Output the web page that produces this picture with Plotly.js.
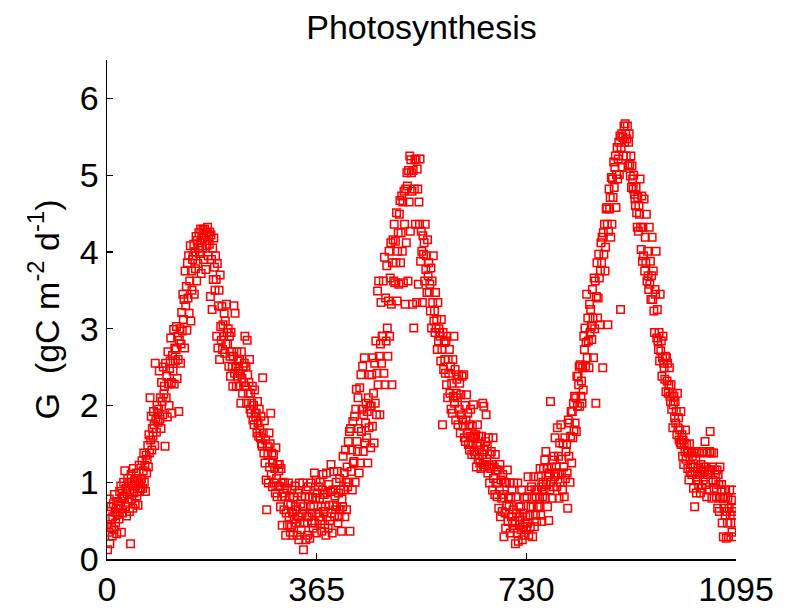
<!DOCTYPE html>
<html>
<head>
<meta charset="utf-8">
<script src="https://cdn.plot.ly/plotly-3.0.1.min.js"></script>
<style>html,body{margin:0;padding:0;background:#fff;}#chart{width:787px;height:613px;}</style>
</head>
<body>
<div id="chart"></div>
<script>
// Daily gross photosynthesis G (gC m^-2 d^-1), day 0 .. 1094
const gpp = [
0.45,0.12,0.62,0.35,0.78,0.2,0.52,0.68,0.41,0.3,
0.55,0.72,0.38,0.84,0.61,0.47,0.66,0.33,0.58,0.75,
0.7,0.52,0.88,0.65,0.95,0.35,0.78,0.6,0.82,1.0,
0.8,1.15,0.68,0.92,0.56,0.85,1.05,0.74,0.98,0.62,
0.9,0.2,1.1,0.78,0.95,0.66,1.18,0.86,1.02,0.72,
0.95,1.12,0.82,1.05,0.7,0.98,1.22,0.88,1.0,0.92,
1.05,1.28,0.92,1.15,1.38,1.0,1.22,0.88,1.35,1.12,
1.3,1.48,1.2,1.62,1.38,2.1,1.55,1.86,1.42,1.7,
1.6,1.92,1.75,1.48,2.55,1.82,1.65,2.0,1.9,1.78,
1.95,2.45,1.82,2.1,1.7,2.3,2.05,1.88,2.5,2.15,
2.25,1.47,2.55,2.1,2.38,1.85,2.7,2.28,2.0,2.48,
2.58,2.88,2.3,1.9,2.65,2.45,2.99,2.28,2.75,2.58,
2.73,3.03,2.35,2.9,2.6,1.92,2.85,3.0,2.55,2.8,
3.21,2.97,3.45,3.12,3.38,2.75,3.75,3.3,3.55,2.98,
3.86,3.4,3.95,3.2,3.62,4.08,3.1,3.75,3.5,3.9,
3.95,4.1,3.45,4.0,3.78,4.2,3.62,4.15,3.85,4.05,
4.25,3.98,4.12,4.3,3.72,4.18,4.05,4.28,3.9,4.22,
4.3,4.15,3.77,4.25,4.08,4.32,3.95,4.2,4.1,4.26,
3.42,4.22,3.9,3.25,4.05,3.64,4.18,3.8,3.5,3.95,
3.64,2.9,3.85,2.75,3.3,3.5,2.6,3.7,3.03,2.85,
3.29,2.73,3.05,2.9,3.2,2.68,3.1,2.8,3.32,2.95,
2.8,3.0,2.51,2.9,2.64,2.38,2.95,2.7,2.5,2.25,
2.64,3.3,2.42,3.2,2.51,2.25,2.7,2.38,2.58,2.45,
2.25,2.6,2.42,2.03,2.7,2.35,2.16,2.5,2.3,2.55,
2.9,2.25,2.51,2.03,2.85,2.4,2.16,2.3,2.6,1.95,
2.16,1.9,2.03,2.25,1.81,2.0,1.75,2.2,1.9,1.85,
1.9,1.64,2.05,1.77,1.6,1.95,1.7,1.58,1.86,1.5,
1.47,2.36,1.64,1.38,1.8,1.25,1.55,1.03,0.64,1.47,
1.36,0.99,1.64,1.2,1.5,1.9,1.1,1.38,0.94,1.25,
1.36,0.99,1.18,0.86,1.45,1.05,0.81,1.23,0.95,1.15,
1.23,0.94,0.68,1.18,0.81,0.44,1.0,0.86,0.64,0.99,
0.81,0.31,0.6,0.92,0.44,0.72,0.99,0.55,0.81,0.35,
0.7,0.42,0.9,0.6,0.31,0.81,0.52,0.95,0.68,0.47,
0.64,0.31,0.86,0.55,0.25,0.99,0.47,0.72,0.38,0.81,
0.6,0.99,0.12,0.68,0.47,0.81,0.25,0.9,0.55,0.31,
0.94,0.55,0.81,0.27,0.68,0.99,0.47,0.6,0.8,0.4,
0.68,1.12,0.47,0.79,1.03,0.34,0.86,0.6,0.94,0.55,
0.79,1.0,0.5,0.68,0.36,0.9,1.1,0.62,0.84,0.45,
0.68,0.31,1.12,0.55,0.86,0.4,0.97,0.7,0.5,0.88,
1.23,0.6,0.34,0.9,0.7,1.14,0.55,0.82,0.64,1.0,
0.68,1.14,0.47,0.86,0.55,1.05,0.64,0.9,0.36,0.78,
0.68,1.34,0.9,1.12,0.55,1.42,1.0,0.64,1.2,0.94,
1.53,1.0,1.66,0.36,1.7,1.14,1.42,0.9,1.79,1.25,
1.27,1.86,1.0,1.95,2.21,1.53,1.4,2.1,1.7,1.12,
2.23,1.25,2.4,1.66,1.95,2.51,1.4,1.88,2.62,1.51,
1.77,2.03,1.58,1.92,1.25,2.1,1.71,2.4,1.99,1.45,
1.99,2.4,1.73,2.62,2.16,1.51,2.55,2.03,2.84,1.88,
2.42,3.49,2.27,3.62,2.64,1.88,2.8,3.34,2.55,2.9,
2.9,3.62,2.42,3.93,2.27,3.4,2.84,3.82,3.01,2.64,
3.36,4.01,2.9,3.66,4.12,3.32,2.27,3.86,4.16,3.62,
4.36,3.6,4.14,3.86,4.51,3.36,4.01,4.25,3.58,4.49,
4.67,3.86,4.25,4.73,4.01,4.65,3.6,4.79,4.36,3.32,
4.82,4.12,5.03,4.86,3.62,5.06,4.65,5.25,4.27,5.2,
5.03,4.79,3.32,5.06,3.01,4.82,5.2,4.36,5.21,3.34,
5.08,4.82,3.58,4.65,4.36,5.21,3.88,4.27,4.01,3.34,
4.21,3.97,4.12,3.62,4.36,3.77,3.95,3.47,4.16,3.69,
3.86,3.47,3.58,3.23,3.79,3.01,3.62,3.34,3.95,3.1,
3.23,2.95,3.47,3.01,3.12,2.73,3.34,2.84,3.0,2.95,
2.9,2.58,3.12,2.73,1.75,2.95,2.47,2.82,2.6,2.42,
2.84,2.27,2.9,2.1,2.6,2.42,2.73,2.16,2.5,1.95,
2.29,1.9,2.6,2.12,2.9,2.03,2.47,1.81,2.16,2.34,
2.1,1.75,2.4,1.95,2.29,1.64,2.14,1.88,2.38,1.81,
1.73,2.4,1.58,2.0,1.53,1.81,2.14,1.64,1.9,1.49,
1.75,1.42,1.6,1.95,1.49,1.36,1.73,1.58,2.01,1.4,
1.58,1.36,1.62,1.2,1.47,1.75,1.3,1.6,1.42,1.25,
1.49,1.18,1.6,1.36,2.03,1.23,1.99,1.42,1.2,1.53,
1.88,1.3,1.47,1.12,1.58,1.23,0.99,1.36,1.18,1.4,
1.23,0.9,1.58,1.05,1.2,0.84,1.36,0.99,1.16,0.81,
0.99,1.16,0.66,0.9,1.23,0.55,1.03,0.79,0.62,1.1,
0.84,0.29,1.0,0.6,0.4,0.99,0.7,1.16,0.49,0.81,
0.68,0.99,0.34,0.79,0.55,0.9,0.47,0.64,0.99,0.4,
0.49,0.2,0.81,0.6,0.34,0.99,0.23,0.68,0.45,0.55,
0.68,0.38,0.9,0.25,0.6,0.42,0.31,0.79,0.47,0.55,
0.38,0.81,0.47,1.07,0.31,0.9,0.57,0.42,0.68,0.94,
0.79,0.29,0.68,1.07,0.42,0.9,0.57,0.81,0.49,0.68,
0.9,1.07,0.68,0.79,1.18,0.57,0.94,0.49,0.81,1.0,
1.18,0.9,1.29,0.79,1.4,0.97,1.18,0.68,1.07,0.5,
1.12,0.9,2.05,1.0,1.2,0.79,1.29,0.94,1.34,1.07,
1.58,1.12,1.2,0.94,1.71,1.12,1.34,0.79,1.51,1.0,
1.75,1.12,1.3,0.9,1.5,1.2,0.81,1.58,1.05,1.4,
1.49,1.12,0.66,1.81,1.34,1.77,1.0,1.6,1.92,1.25,
1.92,1.58,2.03,1.68,2.12,1.77,2.1,1.66,2.38,1.99,
2.38,2.27,2.51,1.99,2.53,2.12,2.32,2.03,2.49,2.2,
2.9,2.73,3.01,2.51,2.82,3.45,2.62,3.14,2.84,2.49,
3.32,2.95,3.25,3.03,2.86,3.51,3.14,2.62,3.66,3.0,
3.62,2.03,3.42,3.86,3.14,3.4,3.97,3.66,3.05,3.75,
4.12,3.86,4.19,2.49,4.25,3.97,4.36,3.75,4.06,4.56,
4.58,4.36,3.05,4.27,4.82,4.56,4.71,4.19,4.97,4.36,
4.95,4.71,5.17,4.84,5.1,5.25,4.58,5.01,5.36,4.95,
5.21,5.43,5.01,5.51,3.25,5.36,5.54,5.1,5.49,5.25,
5.64,5.43,5.67,5.54,5.25,5.47,5.64,5.12,5.43,5.54,
5.14,4.99,5.25,4.84,5.12,4.95,4.82,5.0,4.75,4.69,
4.6,4.84,4.51,4.32,4.71,4.27,4.6,4.49,4.95,4.32,
4.03,4.73,3.88,4.32,3.95,4.69,3.75,4.19,3.86,4.49,
3.62,4.01,3.69,3.51,4.32,3.58,3.88,3.38,3.69,4.19,
3.38,3.75,3.23,2.95,3.51,3.45,4.01,2.88,3.25,2.84,
2.73,2.95,2.58,3.45,2.71,2.84,2.38,2.62,2.9,2.55,
2.49,2.34,2.64,2.18,2.62,2.32,2.55,2.16,2.27,2.49,
2.12,2.05,2.27,1.95,2.16,1.71,2.01,2.12,1.84,2.05,
1.77,1.92,1.62,2.16,1.71,1.84,1.55,1.68,1.51,1.92,
1.49,1.62,1.34,1.55,1.23,1.51,1.4,1.68,1.3,1.49,
1.4,1.18,1.38,1.03,1.5,1.14,1.23,1.4,1.1,1.34,
1.2,0.92,1.38,0.68,1.14,1.3,0.86,1.4,1.03,1.18,
0.97,1.38,1.1,0.86,1.23,1.16,0.92,1.4,1.03,1.2,
1.14,1.53,0.97,1.2,0.81,1.38,1.1,1.16,0.9,1.4,
1.66,1.16,1.38,0.79,1.2,1.03,1.38,0.92,1.16,1.1,
1.0,0.81,1.16,0.66,1.1,0.97,0.62,1.2,0.79,0.9,
0.97,0.47,0.79,0.29,0.66,0.9,0.57,0.81,0.27,0.62,
0.47,0.79,0.29,0.66,0.9,0.57,0.47,0.77,0.35,0.62,
0.9,0.57,0.29,0.66,0.47
];
const firstDay = 0;
const xTicks = [0, 365, 730, 1095];
const xTickLabels = ['0', '365', '730', '1095'];
const yTicks = [0, 1, 2, 3, 4, 5, 6];
const yTickLabels = ['0', '1', '2', '3', '4', '5', '6'];
const chartTitle = 'Photosynthesis';
const yTitle = 'G  (gC m<sup>-2</sup> d<sup>-1</sup>)';

const days = gpp.map((_, i) => firstDay + i);
const font = 'Arial, "Liberation Sans", Helvetica, sans-serif';
const fs = 34;

const trace = {
  x: days, y: gpp, type: 'scatter', mode: 'markers',
  marker: {symbol: 'square-open', size: 7.5, color: '#ff0000', line: {color: '#ff0000', width: 1.5}},
  hoverinfo: 'x+y'
};

const layout = {
  width: 787, height: 613,
  margin: {l: 107, r: 51, t: 60, b: 54, pad: 0},
  paper_bgcolor: '#ffffff', plot_bgcolor: '#ffffff',
  showlegend: false,
  font: {family: font, color: '#000000', size: fs},
  title: {text: chartTitle, font: {family: font, size: fs, color: '#000'}, x: 0.5, xref: 'paper', y: 0.956, yref: 'container', yanchor: 'middle'},
  xaxis: {
    range: [0, 1095], tickmode: 'array', tickvals: xTicks, ticktext: xTickLabels,
    ticks: 'inside', ticklen: 6, tickwidth: 1.3, tickcolor: '#000',
    showline: true, linecolor: '#000', linewidth: 1.5, mirror: false,
    showgrid: false, zeroline: false, tickfont: {family: font, size: fs, color: '#000'}
  },
  yaxis: {
    range: [0, 6.5], tickmode: 'array', tickvals: yTicks, ticktext: yTickLabels,
    ticks: 'inside', ticklen: 6, tickwidth: 1.3, tickcolor: '#000',
    showline: true, linecolor: '#000', linewidth: 1.5, mirror: false,
    showgrid: false, zeroline: false, tickfont: {family: font, size: fs, color: '#000'},
    title: {text: yTitle, font: {family: font, size: fs, color: '#000'}, standoff: 10}
  }
};

Plotly.newPlot('chart', [trace], layout, {displayModeBar: false, staticPlot: true});
</script>
</body>
</html>
